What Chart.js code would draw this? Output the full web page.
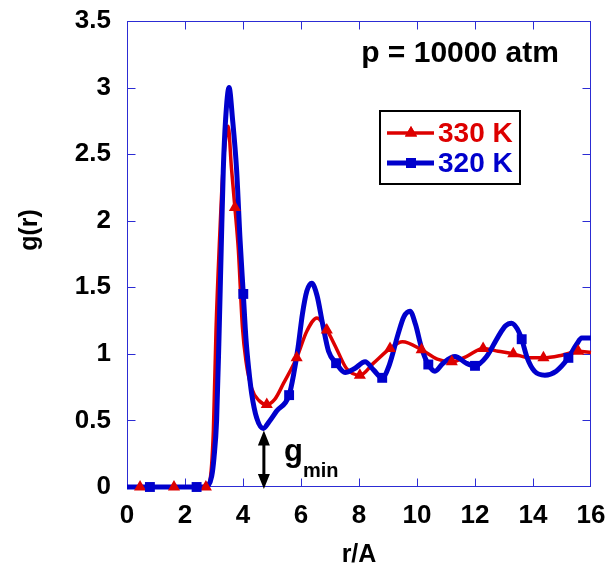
<!DOCTYPE html>
<html>
<head>
<meta charset="utf-8">
<title>g(r)</title>
<script src="https://cdn.jsdelivr.net/npm/chart.js@4.4.0/dist/chart.umd.min.js"></script>
<style>
  html, body { margin: 0; padding: 0; background: #fff; }
</style>
</head>
<body>
<canvas id="grChart" width="608" height="568"></canvas>
<script>
// radial distribution function, 330 K curve
const r330 = [0, 2.7, 2.85, 2.98, 3.07, 3.2, 3.3, 3.42, 3.49, 3.6, 3.72, 3.84, 3.98, 4.1, 4.3, 4.55, 4.82, 5.1, 5.4, 5.85, 6.2, 6.55, 6.89, 7.2, 7.57, 8.03, 8.5, 9.07, 9.5, 10.16, 10.7, 11.2, 11.7, 12.28, 12.8, 13.32, 13.9, 14.36, 15.0, 15.56, 16];
const g330 = [0, 0, 0.04, 0.43, 1.18, 1.9, 2.35, 2.65, 2.71, 2.4, 2.10, 1.78, 1.2, 0.95, 0.74, 0.65, 0.62, 0.66, 0.78, 0.97, 1.17, 1.27, 1.18, 1.05, 0.89, 0.84, 0.93, 1.04, 1.09, 1.03, 0.96, 0.94, 0.98, 1.04, 1.02, 1.0, 0.97, 0.97, 0.99, 1.02, 1.01];

// 320 K curve
const r320 = [0, 2.7, 2.8, 2.92, 3.0, 3.09, 3.17, 3.25, 3.32, 3.4, 3.52, 3.64, 3.78, 3.9, 4.01, 4.1, 4.2, 4.3, 4.47, 4.7, 4.9, 5.16, 5.59, 5.75, 5.9, 6.05, 6.2, 6.37, 6.55, 6.75, 6.95, 7.21, 7.52, 7.85, 8.21, 8.5, 8.8, 9.05, 9.35, 9.55, 9.76, 9.95, 10.15, 10.39, 10.62, 10.9, 11.31, 11.7, 12.0, 12.4, 12.8, 13.05, 13.26, 13.45, 13.61, 13.8, 14.05, 14.41, 14.8, 15.22, 15.5, 15.68, 16];
const g320 = [0, 0, 0.01, 0.08, 0.22, 0.5, 1.1, 1.8, 2.38, 2.76, 3.0, 2.76, 2.38, 1.85, 1.45, 1.12, 0.88, 0.7, 0.52, 0.44, 0.49, 0.57, 0.69, 0.85, 1.05, 1.3, 1.47, 1.53, 1.44, 1.22, 1.02, 0.93, 0.86, 0.89, 0.94, 0.88, 0.82, 0.92, 1.15, 1.28, 1.32, 1.22, 1.05, 0.92, 0.87, 0.93, 0.98, 0.93, 0.91, 0.98, 1.13, 1.21, 1.23, 1.19, 1.11, 0.97, 0.87, 0.84, 0.87, 0.97, 1.07, 1.12, 1.12];

// symbol positions on each curve
const mark330R = [0.45, 1.62, 2.72, 3.72, 4.82, 5.85, 6.89, 8.03, 9.07, 10.16, 11.2, 12.28, 13.32, 14.36, 15.56];
const mark330G = [0, 0, 0, 2.10, 0.62, 0.97, 1.18, 0.84, 1.04, 1.03, 0.94, 1.04, 1.0, 0.97, 1.02];
const mark320R = [0.79, 2.40, 4.01, 5.59, 7.21, 8.8, 10.39, 12.0, 13.61, 15.22];
const mark320G = [0, 0, 1.45, 0.69, 0.93, 0.82, 0.92, 0.91, 1.11, 0.97];

const xTicks = [0, 2, 4, 6, 8, 10, 12, 14, 16];
const yTicks = [0, 0.5, 1, 1.5, 2, 2.5, 3, 3.5];
const seriesNames = ['330 K', '320 K'];

// first minimum of the 320 K curve (g_min)
const gMinR = 4.72;
const gMinValue = 0.44;

const FONT = '"Liberation Sans", Arial, sans-serif';
const RED = '#dd0000';
const BLUE = '#0000cc';
const FRAME = '#2c2cd4';

const pts = (xs, ys) => xs.map((v, i) => ({ x: v, y: ys[i] }));

// frame with inward ticks, legend, labels and the g_min arrow
const decor = {
  id: 'decor',
  beforeDatasetsDraw(chart) {
    const { ctx, chartArea: a, scales: { x, y } } = chart;
    const L = Math.round(a.left) + 0.5, R = Math.round(a.right) - 0.5;
    const T = Math.round(a.top) + 0.5, B = Math.round(a.bottom) - 0.5;
    ctx.save();
    ctx.strokeStyle = FRAME;
    ctx.lineWidth = 1;
    ctx.strokeRect(L, T, R - L, B - T);
    ctx.beginPath();
    xTicks.slice(1, -1).forEach(v => {
      const px = Math.round(x.getPixelForValue(v)) + 0.5;
      ctx.moveTo(px, B); ctx.lineTo(px, B - 8);
      ctx.moveTo(px, T); ctx.lineTo(px, T + 8);
    });
    yTicks.slice(1, -1).forEach(v => {
      const py = Math.round(y.getPixelForValue(v)) + 0.5;
      ctx.moveTo(L, py); ctx.lineTo(L + 8, py);
      ctx.moveTo(R, py); ctx.lineTo(R - 8, py);
    });
    ctx.stroke();
    ctx.restore();
  },
  afterDatasetsDraw(chart) {
    const { ctx, chartArea: a, scales: { x, y } } = chart;
    ctx.save();
    ctx.fillStyle = '#000';

    // axis titles
    ctx.font = 'bold 25px ' + FONT;
    ctx.textAlign = 'center';
    ctx.textBaseline = 'middle';
    ctx.fillText('r/A', (a.left + a.right) / 2, 555);
    ctx.save();
    ctx.translate(30, 230);
    ctx.rotate(-Math.PI / 2);
    ctx.fillText('g(r)', 0, 0);
    ctx.restore();

    // pressure note
    ctx.font = 'bold 30px ' + FONT;
    ctx.fillText('p = 10000 atm', 460, 54);

    // legend
    ctx.fillStyle = '#fff';
    ctx.fillRect(379, 110, 142, 75);
    ctx.strokeStyle = '#000';
    ctx.lineWidth = 2;
    ctx.strokeRect(380, 111, 140, 73);
    const rows = [
      { name: seriesNames[0], color: RED, y: 133, style: 'triangle', w: 3.5 },
      { name: seriesNames[1], color: BLUE, y: 163, style: 'rect', w: 5 }
    ];
    rows.forEach(row => {
      ctx.strokeStyle = row.color;
      ctx.lineWidth = row.w;
      ctx.beginPath();
      ctx.moveTo(387, row.y);
      ctx.lineTo(434, row.y);
      ctx.stroke();
      ctx.fillStyle = row.color;
      Chart.helpers.drawPoint(ctx, { pointStyle: row.style, radius: 7, rotation: 0, borderWidth: 0 }, 411, row.y);
      ctx.fill();
      ctx.font = 'bold 28px ' + FONT;
      ctx.textAlign = 'left';
      ctx.textBaseline = 'middle';
      ctx.fillText(row.name, 438, row.y + 1);
    });

    // g_min double arrow from the minimum down to the axis
    const ax = x.getPixelForValue(gMinR);
    const yTop = y.getPixelForValue(gMinValue) + 2;
    const yBot = y.getPixelForValue(0) + 2;
    ctx.strokeStyle = '#000';
    ctx.fillStyle = '#000';
    ctx.lineWidth = 3;
    ctx.beginPath();
    ctx.moveTo(ax, yTop + 10);
    ctx.lineTo(ax, yBot - 10);
    ctx.stroke();
    ctx.beginPath();
    ctx.moveTo(ax, yTop); ctx.lineTo(ax - 6, yTop + 15); ctx.lineTo(ax + 6, yTop + 15); ctx.closePath();
    ctx.moveTo(ax, yBot); ctx.lineTo(ax - 6, yBot - 15); ctx.lineTo(ax + 6, yBot - 15); ctx.closePath();
    ctx.fill();

    ctx.textAlign = 'left';
    ctx.textBaseline = 'alphabetic';
    ctx.font = 'bold 31px ' + FONT;
    ctx.fillText('g', 284, 461);
    ctx.font = 'bold 20px ' + FONT;
    ctx.fillText('min', 303, 477);
    ctx.restore();
  }
};

new Chart(document.getElementById('grChart'), {
  type: 'scatter',
  data: {
    datasets: [
      {
        label: seriesNames[1] + ' symbols',
        data: pts(mark320R, mark320G),
        showLine: false,
        pointStyle: 'rect',
        pointRadius: 7,
        backgroundColor: BLUE,
        borderWidth: 0,
        order: 0
      },
      {
        label: seriesNames[0] + ' symbols',
        data: pts(mark330R, mark330G),
        showLine: false,
        pointStyle: 'triangle',
        pointRadius: 7,
        backgroundColor: RED,
        borderWidth: 0,
        order: 1
      },
      {
        label: seriesNames[1],
        data: pts(r320, g320),
        showLine: true,
        borderColor: BLUE,
        borderWidth: 5,
        pointRadius: 0,
        cubicInterpolationMode: 'monotone',
        order: 2
      },
      {
        label: seriesNames[0],
        data: pts(r330, g330),
        showLine: true,
        borderColor: RED,
        borderWidth: 3.5,
        pointRadius: 0,
        cubicInterpolationMode: 'monotone',
        order: 3
      }
    ]
  },
  options: {
    responsive: false,
    animation: false,
    devicePixelRatio: 1,
    clip: false,
    layout: { padding: { left: 0, right: 17, top: 21, bottom: 0 } },
    plugins: {
      legend: { display: false },
      tooltip: { enabled: false }
    },
    scales: {
      x: {
        type: 'linear',
        min: 0,
        max: 16,
        afterBuildTicks: s => { s.ticks = xTicks.map(v => ({ value: v })); },
        afterFit: s => {
          s.height = 81;
          s.paddingLeft = 0;
          s.paddingRight = 0;
        },
        grid: { display: false, drawTicks: false },
        border: { display: false },
        ticks: {
          color: '#000',
          padding: 13,
          maxRotation: 0,
          autoSkip: false,
          font: { family: FONT, size: 26, weight: 'bold' },
          callback: v => String(v)
        }
      },
      y: {
        type: 'linear',
        min: 0,
        max: 3.5,
        afterBuildTicks: s => { s.ticks = yTicks.map(v => ({ value: v })); },
        afterFit: s => {
          s.width = 127;
          s.paddingTop = 0;
          s.paddingBottom = 0;
        },
        grid: { display: false, drawTicks: false },
        border: { display: false },
        ticks: {
          color: '#000',
          padding: 16,
          autoSkip: false,
          font: { family: FONT, size: 26, weight: 'bold' },
          callback: v => String(v)
        }
      }
    }
  },
  plugins: [decor]
});
</script>
</body>
</html>
